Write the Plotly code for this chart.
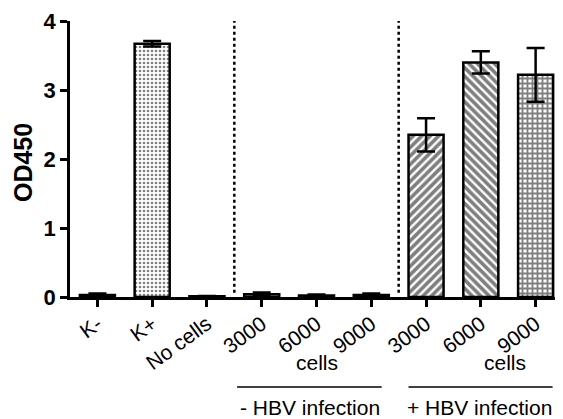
import plotly.graph_objects as go

categories = ["K-", "K+", "No cells", "3000", "6000", "9000", "3000", "6000", "9000"]
od450 = [0.03, 3.67, 0.01, 0.04, 0.02, 0.03, 2.35, 3.40, 3.22]
od450_err = [0.02, 0.04, 0.005, 0.025, 0.015, 0.02, 0.24, 0.16, 0.39]
patterns = ["", ".", "", "", "", "", "/", "\\", "+"]
y_ticks = [0, 1, 2, 3, 4]

FONT = "Arial, Liberation Sans, sans-serif"
xpos = list(range(len(categories)))

fig = go.Figure()
fig.add_trace(go.Bar(
    x=xpos, y=od450, width=0.64,
    marker=dict(color="white", line=dict(color="black", width=2.5),
                pattern=dict(shape=patterns, fgcolor="black", bgcolor="white",
                             size=[6, 4, 6, 6, 6, 6, 6, 6, 5],
                             solidity=[0.3, 0.35, 0.3, 0.3, 0.3, 0.3, 0.6, 0.6, 0.6],
                             fillmode="overlay")),
    error_y=dict(type="data", array=od450_err, visible=True, color="black",
                 thickness=2.5, width=9),
    showlegend=False,
))

# dotted separators
for xs in [2.5, 5.5]:
    fig.add_shape(type="line", xref="x", yref="y", x0=xs, x1=xs, y0=0.06, y1=4.0,
                  line=dict(color="black", width=2.5, dash="dot"))

# group lines
for x0, x1 in [(2.55, 5.19), (5.68, 8.31)]:
    fig.add_shape(type="line", xref="x", yref="paper", x0=x0, x1=x1, y0=-0.326, y1=-0.326,
                  line=dict(color="black", width=1.5))

ann = [
    dict(x=4, y=-0.239, text="cells", xanchor="center"),
    dict(x=7.87, y=-0.239, text="cells", xanchor="right"),
    dict(x=3.88, y=-0.402, text="- HBV infection", xanchor="center"),
    dict(x=6.98, y=-0.402, text="+ HBV infection", xanchor="center"),
]
for a in ann:
    fig.add_annotation(xref="x", yref="paper", x=a["x"], y=a["y"], text=a["text"],
                       xanchor=a["xanchor"], yanchor="middle", showarrow=False,
                       font=dict(family=FONT, size=21, color="black"))

fig.add_annotation(xref="paper", yref="paper", x=-0.095, y=0.486, text="<b>OD450</b>",
                   textangle=-90, showarrow=False, xanchor="center", yanchor="middle",
                   font=dict(family=FONT, size=25, color="black"))

# page body has an 8px default margin, so the figure is sized to fill the rest
fig.update_layout(
    width=555, height=411,
    margin=dict(l=62, r=0, t=13, b=122, pad=0),
    paper_bgcolor="white", plot_bgcolor="white",
    xaxis=dict(range=[-0.5, 8.5], tickmode="array", tickvals=xpos, ticktext=categories,
               tickangle=-36, ticks="outside", ticklen=7, tickwidth=2.5, tickcolor="black",
               ticklabelstandoff=-3,
               showline=True, linecolor="black", linewidth=2.5, showgrid=False, zeroline=False,
               tickfont=dict(family=FONT, size=21, color="black")),
    yaxis=dict(range=[0, 4], tickmode="array", tickvals=y_ticks,
               ticktext=[f"<b>{v}</b>" for v in y_ticks],
               ticks="outside", ticklen=7, tickwidth=2.5, tickcolor="black",
               showline=True, linecolor="black", linewidth=2.5, showgrid=False, zeroline=False,
               tickfont=dict(family=FONT, size=22, color="black")),
)

fig.write_html("out.html")
